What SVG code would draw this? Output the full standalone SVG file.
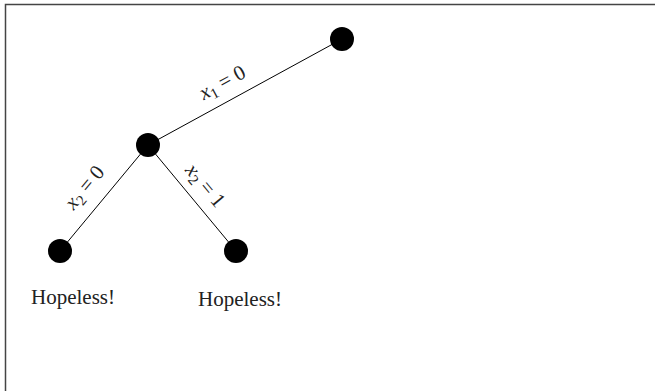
<svg xmlns="http://www.w3.org/2000/svg" width="655" height="391" viewBox="0 0 655 391">
<style>
.node{fill:#000}
.edge{stroke:#000;stroke-width:1;fill:none}
.lbl{font-family:"Liberation Serif","DejaVu Serif",serif;font-size:21px;fill:#222}
.it{font-style:italic}
.sub{font-size:15px}
</style>
<rect x="0" y="0" width="655" height="391" fill="#fff"/>
<path d="M5.5 391 V4.5 H655" stroke="#444" stroke-width="1.5" fill="none"/>
<g id="connectors">
<line class="edge" x1="148" y1="145" x2="342" y2="39"/>
<line class="edge" x1="148" y1="145" x2="60" y2="251"/>
<line class="edge" x1="148" y1="145" x2="236" y2="251"/>
</g>
<g id="edge-labels">
<text class="lbl" text-anchor="middle" transform="translate(222,82) rotate(-28.6)" dy="0.35em"><tspan class="it">x</tspan><tspan class="sub" dy="4">1</tspan><tspan dy="-4"> = 0</tspan></text>
<text class="lbl" text-anchor="middle" transform="translate(84,187) rotate(-50.3)" dy="0.35em"><tspan class="it">x</tspan><tspan class="sub" dy="4">2</tspan><tspan dy="-4"> = 0</tspan></text>
<text class="lbl" text-anchor="middle" transform="translate(206,185) rotate(50.3)" dy="0.35em"><tspan class="it">x</tspan><tspan class="sub" dy="4">2</tspan><tspan dy="-4"> = 1</tspan></text>
</g>
<g id="n0"><circle class="node" cx="342" cy="39" r="12"/></g>
<g id="n1"><circle class="node" cx="148" cy="145" r="12"/></g>
<g id="n2"><circle class="node" cx="60" cy="251" r="12"/><text class="lbl" x="73" y="304" text-anchor="middle">Hopeless!</text></g>
<g id="n3"><circle class="node" cx="236" cy="251" r="12"/><text class="lbl" x="240" y="306" text-anchor="middle">Hopeless!</text></g>
</svg>
